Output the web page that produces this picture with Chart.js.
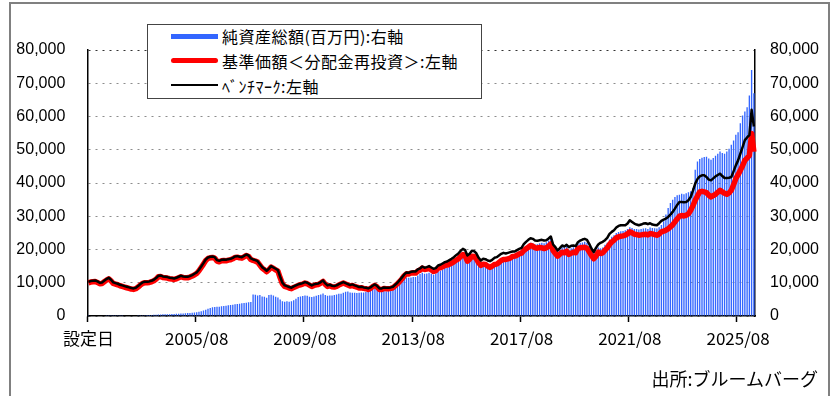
<!DOCTYPE html>
<html>
<head>
<meta charset="utf-8">
<script src="https://cdn.jsdelivr.net/npm/chart.js@4.4.1/dist/chart.umd.min.js"></script>
<style>
  body { margin: 0; background: #fff; overflow: hidden; }
  #wrap { position: relative; width: 835px; height: 396px; }
  #frame { position: absolute; left: 9px; top: 2px; width: 817px; height: 400px; border: 2px solid #808080; }
  #chart { position: absolute; left: 0; top: 0; }
  #legend {
    position: absolute; left: 147px; top: 24px; width: 333px; height: 73px;
    border: 1.5px solid #444; background: #fff;
    font-family: "Noto Sans CJK JP", sans-serif; font-size: 16px; letter-spacing: 0.5px; color: #000;
  }
  .sw { position: absolute; left: 23px; width: 47px; }
  .txt { position: absolute; left: 74px; height: 20px; line-height: 20px; white-space: nowrap; }
  #source {
    position: absolute; right: 17px; top: 366px; line-height: 24px;
    font-family: "Noto Sans CJK JP", sans-serif; font-size: 18px; color: #000; white-space: nowrap;
  }
</style>
</head>
<body>
<div id="wrap">
  <div id="frame"></div>
  <canvas id="chart" width="835" height="396"></canvas>
  <div id="legend">
    <div class="sw" style="top:9px;height:5px;background:#3366ff"></div>
    <div class="txt" style="top:1px">純資産総額(百万円):右軸</div>
    <div class="sw" style="top:33px;height:5px;border-radius:3px;background:#ff0000"></div>
    <div class="txt" style="top:26px">基準価額＜分配金再投資＞:左軸</div>
    <div class="sw" style="top:59px;height:2px;background:#000"></div>
    <div class="txt" style="top:51px">ﾍﾞﾝﾁﾏｰｸ:左軸</div>
  </div>
  <div id="source">出所:ブルームバーグ</div>
</div>
<script>
// monthly series from the inception month (2001/08) to 2026/03
const startYear = 2001;
const startMonth = 8;

// 基準価額（分配金再投資）, left axis
const navValues = [
  10000, 10200, 10300, 10400, 10100,
  9700, 9800, 10300, 10800, 11200, 10600, 9800, 9600, 9400, 9100, 8900, 8700,
  8500, 8300, 8100, 8000, 8200, 8700, 9300, 9800, 10000, 10000, 10100, 10300,
  10600, 11100, 11800, 11900, 11600, 11500, 11400, 11200, 11100, 11000, 11200, 11500,
  11800, 11600, 11500, 11500, 11700, 12000, 12400, 12800, 13600, 14600, 15600, 16700,
  17300, 17500, 17600, 17400, 16500, 16300, 16600, 16700, 16600, 16800, 16900, 17200,
  17600, 17700, 17500, 17400, 17800, 18200, 17900, 17000, 16700, 16500, 16200, 15300,
  14400, 13900, 13300, 13900, 14700, 14300, 13900, 13500, 11500, 9700, 8900, 8700,
  8400, 8200, 8600, 8900, 9200, 9400, 9600, 9900, 9700, 9300, 8900, 9200,
  9400, 9500, 9900, 10400, 9500, 8900, 9100, 8800, 8700, 8900, 9300, 9600,
  9900, 9600, 9300, 9000, 9200, 8900, 8700, 8400, 8500, 8300, 8200, 8000,
  8300, 8800, 9200, 8700, 8000, 8000, 8300, 8200, 8200, 8300, 8500, 9100,
  9700, 10400, 11200, 12100, 12700, 12600, 12900, 13000, 12900, 13500, 13800, 14400,
  14000, 14100, 14300, 13900, 13400, 13600, 14400, 14500, 14800, 15200, 15300, 15600,
  15900, 16300, 16800, 17200, 17900, 18500, 18100, 16500, 17100, 18000, 17900, 17200,
  16000, 15200, 15600, 15500, 15000, 14600, 15000, 15500, 15600, 16100, 16700, 17000,
  17000, 17200, 17400, 17900, 18000, 18300, 18700, 18900, 19700, 20200, 20700, 21200,
  21000, 20500, 20400, 20600, 20500, 20300, 20500, 21000, 21700, 19700, 18800, 18000,
  18600, 19200, 19000, 19500, 18500, 18900, 19200, 19000, 20300, 20500, 20600, 20700,
  20400, 19300, 18200, 17200, 18000, 19200, 18800, 19000, 19800, 20500, 21500, 22300,
  22800, 23500, 23800, 24000, 24100, 24300, 24700, 25300, 25000, 24600, 24500, 24300,
  24400, 24500, 24600, 24400, 24800, 24700, 24500, 24300, 24600, 25300, 25500, 25800,
  26200, 26800, 27400, 28300, 29200, 30000, 30200, 30100, 30300, 30700, 31800, 33200,
  34800, 36100, 37300, 37500, 37300, 37100, 36300, 35800, 36200, 36600, 37200, 37800,
  37300, 36900, 36600, 37000, 37800, 39500, 41300, 42500, 43800, 45200, 46800, 47500,
  48300, 54900, 49400
];

// ベンチマーク, left axis
const benchmarkValues = [
  10300, 10500, 10600, 10700, 10400,
  10000, 10100, 10600, 11100, 11500, 10900, 10100, 9900, 9700, 9400, 9200, 9000,
  8800, 8600, 8400, 8300, 8500, 9000, 9600, 10100, 10300, 10300, 10400, 10600,
  10900, 11400, 12100, 12200, 11900, 11800, 11700, 11500, 11400, 11300, 11500, 11800,
  12100, 11900, 11800, 11800, 12000, 12300, 12700, 13100, 13900, 14900, 15900, 17000,
  17600, 17800, 17900, 17700, 16800, 16600, 16900, 17000, 16900, 17100, 17200, 17500,
  17900, 18000, 17800, 17700, 18100, 18500, 18200, 17300, 17000, 16800, 16500, 15600,
  14700, 14200, 13600, 14200, 15000, 14600, 14200, 13800, 11800, 10000, 9200, 9000,
  8700, 8500, 8900, 9200, 9500, 9700, 9900, 10200, 10000, 9600, 9200, 9500,
  9700, 9800, 10200, 10700, 9800, 9200, 9400, 9100, 9000, 9200, 9600, 9900,
  10200, 9900, 9600, 9300, 9500, 9200, 9000, 8700, 8800, 8600, 8500, 8300,
  8600, 9100, 9500, 9000, 8300, 8300, 8600, 8500, 8500, 8600, 8800, 9400,
  10000, 10800, 11600, 12500, 13100, 13000, 13300, 13400, 13400, 14000, 14300, 14900,
  14500, 14700, 15000, 14600, 14200, 14400, 15200, 15400, 15800, 16200, 16400, 16800,
  17200, 17700, 18300, 18800, 19600, 20200, 19800, 18200, 18700, 19600, 19500, 18800,
  17500, 16700, 17200, 17100, 16700, 16500, 16900, 17500, 17700, 18200, 18700, 19000,
  18800, 19000, 19200, 19400, 19400, 19800, 20200, 20500, 21600, 22300, 22900, 23400,
  23200, 22700, 22600, 22800, 22900, 22700, 22800, 23300, 23900, 21500, 20700, 19700,
  20400, 21200, 20900, 21400, 20700, 21100, 21200, 21000, 22200, 22700, 23000, 23200,
  22900, 21700, 20300, 19200, 20500, 21500, 22000, 22300, 22800, 23500, 24700, 25300,
  25800, 26600, 27100, 27300, 27300, 27300, 27800, 28800, 28300, 27800, 27500, 27300,
  27500, 27800, 27900, 27600, 27900, 27500, 27400, 27300, 27900, 28600, 29000, 29300,
  29800, 30500, 31300, 32300, 33400, 34300, 34300, 34200, 34300, 34800, 35800, 37700,
  39800, 41200, 42000, 42300, 42300, 41800, 41000, 40800, 41400, 42000, 42400, 42800,
  42100, 41500, 41500, 41600, 41800, 43500, 45300, 46800, 48800, 50800, 52900, 53700,
  54400, 62000, 57000
];

// 純資産総額（百万円）, right axis
const netAssets = [
  100, 120, 140, 150, 150,
  160, 170, 180, 190, 200, 200, 200, 200, 200, 190, 190, 180,
  180, 180, 170, 170, 180, 190, 200, 220, 250, 280, 300, 330,
  360, 400, 440, 470, 500, 520, 540, 560, 590, 620, 660, 700,
  750, 780, 820, 870, 920, 980, 1050, 1150, 1300, 1450, 1650, 1900,
  2200, 2400, 2600, 2700, 2750, 2800, 2900, 3000, 3100, 3200, 3300, 3400,
  3500, 3600, 3700, 3800, 3900, 4000, 4100, 4200, 6500, 6400, 6200, 6300,
  5900, 5800, 5500, 6300, 6400, 6200, 5800, 5600, 5000, 4400, 4300, 4400,
  4300, 4400, 4700, 5200, 5700, 5900, 6000, 6200, 6100, 5800, 5700, 5900,
  6100, 6300, 6500, 6800, 6300, 6100, 6200, 6200, 6300, 6500, 6700, 6700,
  7000, 7300, 7400, 7100, 7000, 7000, 6900, 7000, 7100, 7100, 7200, 7300,
  7600, 8000, 8400, 8000, 7400, 7400, 7500, 7400, 7500, 7800, 8000, 8400,
  9000, 10000, 10900, 11500, 11600, 11500, 11600, 11700, 11700, 12200, 12600, 13000,
  12700, 12800, 13000, 12700, 12400, 12700, 13400, 13600, 14000, 14400, 14600, 14900,
  15300, 15700, 16300, 16700, 17400, 18000, 17600, 16000, 16500, 17500, 17500, 16800,
  15600, 15000, 15400, 15300, 14900, 14500, 14900, 15400, 15600, 16100, 16800, 17200,
  17300, 17600, 17900, 18400, 18600, 19000, 19400, 19700, 20500, 21000, 21500, 22000,
  21900, 21500, 21600, 21900, 22000, 21900, 22200, 22700, 23200, 21300, 20300, 19500,
  20100, 20700, 20500, 21000, 20000, 20400, 20700, 20500, 21800, 22000, 22100, 22300,
  22000, 21000, 19700, 18700, 19500, 20600, 20400, 20600, 21400, 22000, 23000, 23800,
  24300, 25000, 25300, 25500, 25600, 25800, 26200, 26700, 26500, 26200, 26200, 26000,
  26200, 26300, 26400, 26200, 26600, 26500, 26400, 26300, 26700, 27400, 28500, 30500,
  32500, 34000, 35000, 35800, 36300, 36500, 36800, 36600, 36900, 37200, 37500, 38500,
  44000, 46500, 47200, 47600, 47800, 47900, 47400, 47000, 47500, 48200, 48800, 49500,
  49000, 48800, 49500, 50300, 51500, 52800, 54500, 55300, 58000, 60300, 61500, 62800,
  66300, 74000, 67000
];

const tickLabels = ['設定日', '2005/08', '2009/08', '2013/08', '2017/08', '2021/08', '2025/08'];

const months = navValues.map((_, i) => {
  const t = startMonth - 1 + i;
  return (startYear + Math.floor(t / 12)) + '/' + String(t % 12 + 1).padStart(2, '0');
});

function isLabelled(i) {
  return i === 0 || tickLabels.includes(months[i]);
}

const yTickFont = { family: 'Liberation Sans', size: 16 };

new Chart(document.getElementById('chart'), {
  type: 'bar',
  data: {
    labels: months,
    datasets: [
      {
        type: 'line',
        label: 'ベンチマーク',
        data: benchmarkValues,
        yAxisID: 'y',
        borderColor: '#000000',
        borderWidth: 2.5,
        pointRadius: 0,
        tension: 0,
        borderJoinStyle: 'round',
        order: 1
      },
      {
        type: 'line',
        label: '基準価額',
        data: navValues,
        yAxisID: 'y',
        borderColor: '#ff0000',
        borderWidth: 5.5,
        pointRadius: 0,
        tension: 0,
        borderJoinStyle: 'round',
        order: 2
      },
      {
        label: '純資産総額',
        data: netAssets,
        yAxisID: 'y2',
        backgroundColor: '#3366ff',
        barPercentage: 0.6,
        categoryPercentage: 1,
        order: 3
      }
    ]
  },
  options: {
    responsive: false,
    animation: false,
    layout: { padding: { left: 10, top: 50, right: 0, bottom: 40 } },
    plugins: { legend: { display: false }, tooltip: { enabled: false } },
    scales: {
      x: {
        offset: true,
        grid: {
          offset: true,
          drawOnChartArea: false,
          drawTicks: true,
          tickLength: 6,
          tickColor: (c) => (isLabelled(c.index) ? '#000' : 'rgba(0,0,0,0)'),
          tickWidth: 1.5
        },
        border: { display: true, color: '#000', width: 1.5 },
        ticks: {
          autoSkip: false,
          maxRotation: 0,
          padding: 6,
          color: '#000',
          font: { family: 'Noto Sans CJK JP', size: 17 },
          callback: (v, i) => (i === 0 ? tickLabels[0] : (isLabelled(i) ? months[i] : ''))
        },
        afterFit: (s) => { s.height = 40; }
      },
      y: {
        position: 'left',
        min: 0,
        max: 80000,
        grid: {
          color: (c) => (c.tick && c.tick.value === 80000 ? '#333' : '#8c8c8c'),
          lineWidth: 1,
          drawTicks: false
        },
        border: { display: true, color: '#000', width: 1.5, dash: [2, 5] },
        ticks: {
          stepSize: 10000,
          padding: 22,
          color: '#000',
          font: yTickFont,
          callback: (v) => v.toLocaleString('en-US')
        },
        afterFit: (s) => { s.width = 77.3; }
      },
      y2: {
        position: 'right',
        min: 0,
        max: 80000,
        grid: { drawOnChartArea: false, drawTicks: false },
        border: { display: true, color: '#000', width: 1.5 },
        ticks: {
          stepSize: 10000,
          padding: 15,
          color: '#000',
          font: yTickFont,
          callback: (v) => v.toLocaleString('en-US')
        },
        afterFit: (s) => { s.width = 80; }
      }
    }
  }
});
</script>
</body>
</html>
